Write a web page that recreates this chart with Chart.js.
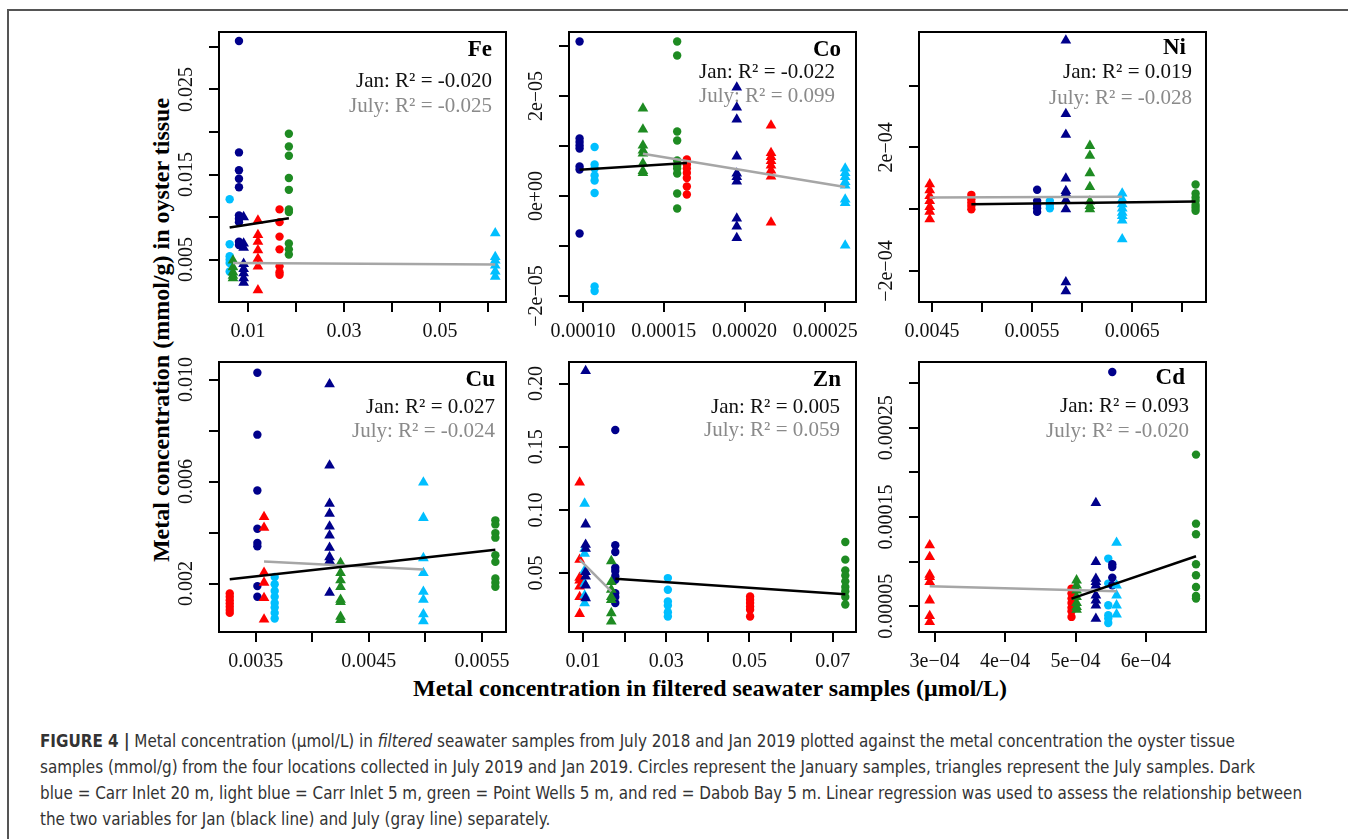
<!DOCTYPE html>
<html>
<head>
<meta charset="utf-8">
<script src="https://cdn.jsdelivr.net/npm/chart.js@4.4.1/dist/chart.umd.min.js"></script>
<style>
  body { margin: 0; background: #fff; }
  #page { position: relative; width: 1355px; height: 839px; overflow: hidden; background: #fff; }
  .panel { position: absolute; }
  .rule-top { position: absolute; left: 7px; top: 9px; width: 1341px; height: 2px; background: #555; }
  .rule-left { position: absolute; left: 7px; top: 9px; width: 2px; height: 830px; background: #555; }
  .axis-title { position: absolute; font: bold 24px "Liberation Serif", serif; color: #000; white-space: nowrap; transform: translate(-50%, -50%); }
  #yTitle { left: 161px; top: 330px; transform: translate(-50%, -50%) rotate(-90deg); }
  #xTitle { left: 710px; top: 688px; }
  .cap { position: absolute; left: 40px; white-space: nowrap; font-size: 17px; line-height: 20px;
         font-family: "Liberation Sans Narrow", "DejaVu Sans Condensed", "Liberation Sans", sans-serif;
         color: #333; transform-origin: 0 50%; }
</style>
</head>
<body>
<div id="page">
  <div class="rule-top"></div>
  <div class="rule-left"></div>
  <div class="axis-title" id="yTitle">Metal concentration (mmol/g) in oyster tissue</div>
  <div class="axis-title" id="xTitle">Metal concentration in filtered seawater samples (μmol/L)</div>
  <div class="cap" style="top:731px"><b>FIGURE 4 |</b> Metal concentration (μmol/L) in <i>filtered</i> seawater samples from July 2018 and Jan 2019 plotted against the metal concentration the oyster tissue</div>
  <div class="cap" style="top:757px">samples (mmol/g) from the four locations collected in July 2019 and Jan 2019. Circles represent the January samples, triangles represent the July samples. Dark</div>
  <div class="cap" id="capWide" style="top:783px">blue = Carr Inlet 20 m, light blue = Carr Inlet 5 m, green = Point Wells 5 m, and red = Dabob Bay 5 m. Linear regression was used to assess the relationship between</div>
  <div class="cap" style="top:809px">the two variables for Jan (black line) and July (gray line) separately.</div>
</div>
<script>
// urutan site: Carr Inlet 20 m, Carr Inlet 5 m, Point Wells 5 m, Dabob Bay 5 m
const sites = ["Carr Inlet 20 m", "Carr Inlet 5 m", "Point Wells 5 m", "Dabob Bay 5 m"];
const metals = ["Fe", "Co", "Ni", "Cu", "Zn", "Cd"];
const janR2 = ["-0.020", "-0.022", "0.019", "0.027", "0.005", "0.093"];
const julR2 = ["-0.025", "0.099", "-0.028", "-0.024", "0.059", "-0.020"];

// ---- Fe ----
const feJanX = [0.00813, 0.00619, 0.01852, 0.01658];
const feJanY = [
  [0.0307, 0.0176, 0.0155, 0.0145, 0.0135, 0.0102, 0.0098, 0.0094, 0.0071, 0.0067],
  [0.0121, 0.0068, 0.0054, 0.0050, 0.0046, 0.0036],
  [0.0198, 0.0183, 0.0172, 0.0146, 0.0132, 0.0109, 0.0106, 0.0069, 0.0062, 0.0056],
  [0.0109, 0.0094, 0.0077, 0.0062, 0.0042, 0.0035, 0.0032]
];
const feJulX = [0.0091, 0.0615, 0.00688, 0.01208];
const feJulY = [
  [0.0100, 0.0069, 0.0064, 0.0045, 0.0039, 0.0034, 0.0028, 0.0023],
  [0.0081, 0.0053, 0.0049, 0.0043, 0.0036, 0.0030],
  [0.0049, 0.0041, 0.0035, 0.0031, 0.0028],
  [0.0096, 0.0079, 0.0071, 0.0061, 0.0051, 0.0042, 0.0014]
];
const feJanLine = [[0.00619, 0.00876], [0.01852, 0.00986]];
const feJulLine = [[0.00688, 0.00461], [0.0615, 0.00441]];
const feXRange = [0.00397, 0.06374];
const feYRange = [0.00001, 0.03176];
const feXTicks = [0.01, 0.02, 0.03, 0.04, 0.05, 0.06];
const feXLabels = ["0.01", "", "0.03", "", "0.05", ""];
const feYTicks = [0.005, 0.010, 0.015, 0.020, 0.025, 0.030];
const feYLabels = ["0.005", "", "0.015", "", "0.025", ""];

// ---- Co ----
const coJanX = [9.79e-5, 1.072e-4, 1.583e-4, 1.643e-4];
const coJanY = [
  [3.09e-5, 1.15e-5, 1.08e-5, 1.01e-5, 9.5e-6, 5.9e-6, 5.3e-6, -7.5e-6],
  [9.8e-6, 6.3e-6, 5.5e-6, 4.1e-6, 3.1e-6, 6e-7, -1.81e-5, -1.9e-5],
  [3.09e-5, 2.81e-5, 1.29e-5, 1.11e-5, 7.1e-6, 6.1e-6, 5.5e-6, 4.5e-6, 5e-7, -2.5e-6],
  [7.3e-6, 6.3e-6, 5.5e-6, 4.6e-6, 3.6e-6, 1.9e-6, 3e-7]
];
const coJulX = [1.952e-4, 2.623e-4, 1.371e-4, 2.164e-4];
const coJulY = [
  [2.17e-5, 1.77e-5, 1.53e-5, 7.9e-6, 4.5e-6, 3.8e-6, 2.9e-6, -4.5e-6, -6.1e-6, -8.4e-6],
  [5.5e-6, 4.6e-6, 3.8e-6, 2.8e-6, 2.1e-6, -7e-7, -1.4e-6, -9.9e-6],
  [1.75e-5, 1.33e-5, 1.01e-5, 9.1e-6, 8.5e-6, 6.5e-6, 5e-6, 4.6e-6],
  [1.41e-5, 8.6e-6, 7.8e-6, 7e-6, 6.1e-6, 5.1e-6, 3.9e-6, -5.3e-6]
];
const coJanLine = [[9.79e-5, 5.27e-6], [1.643e-4, 6.6e-6]];
const coJulLine = [[1.371e-4, 8.47e-6], [2.623e-4, 1.8e-6]];
const coXRange = [9.135e-5, 2.69e-4];
const coYRange = [-2.12e-5, 3.28e-5];
const coXTicks = [1e-4, 1.5e-4, 2e-4, 2.5e-4];
const coXLabels = ["0.00010", "0.00015", "0.00020", "0.00025"];
const coYTicks = [-2e-5, -1e-5, 0, 1e-5, 2e-5, 3e-5];
const coYLabels = ["\u22122e\u221205", "", "0e+00", "", "2e\u221205", ""];

// ---- Ni ----
const niJanX = [0.00555, 0.005677, 0.007133, 0.004893];
const niJanY = [
  [6.3e-5, 2.7e-5, 1.4e-5, 3e-6, -8.6e-6],
  [2.7e-5, 1.4e-5, 3e-6],
  [8e-5, 5.1e-5, 3.8e-5, 2.7e-5, 1.4e-5, 5e-6, -5e-6],
  [4.65e-5, 3.2e-5, 2.2e-5, 1.1e-5, 0]
];
const niJulX = [0.005837, 0.0064, 0.006077, 0.004477];
const niJulY = [
  [5.46e-4, 3.08e-4, 2.41e-4, 9.95e-5, 5.9e-5, 5.1e-5, 2.9e-5, 0, -2.36e-4, -2.65e-4],
  [5.1e-5, 3.2e-5, 1.6e-5, 3e-6, -1.1e-5, -2.2e-5, -3.6e-5, -9.7e-5],
  [2.05e-4, 1.73e-4, 1.17e-4, 7.2e-5, 2.5e-5, 1.1e-5, 0],
  [8.1e-5, 6.2e-5, 4.3e-5, 2.7e-5, 7.6e-6, -7.6e-6, -3.2e-5]
];
const niJanLine = [[0.004893, 1.6e-5], [0.007133, 2.5e-5]];
const niJulLine = [[0.004477, 3.8e-5], [0.0064, 4e-5]];
const niXRange = [0.00437, 0.007237];
const niYRange = [-3.0e-4, 5.73e-4];
const niXTicks = [0.0045, 0.005, 0.0055, 0.006, 0.0065, 0.007];
const niXLabels = ["0.0045", "", "0.0055", "", "0.0065", ""];
const niYTicks = [-2e-4, 0, 2e-4, 4e-4];
const niYLabels = ["\u22122e\u221204", "", "2e\u221204", ""];

// ---- Cu ----
const cuJanX = [0.003515, 0.003668, 0.005618, 0.003271];
const cuJanY = [
  [0.01027, 0.00784, 0.00565, 0.00415, 0.00359, 0.00346, 0.0019, 0.00148],
  [0.00226, 0.00197, 0.00171, 0.00148, 0.00124, 0.00106, 0.00085, 0.00063],
  [0.00448, 0.00432, 0.00398, 0.0038, 0.00311, 0.00285, 0.0022, 0.00203, 0.00187],
  [0.00161, 0.00148, 0.00135, 0.00122, 0.00109, 0.00096, 0.00085]
];
const cuJulX = [0.004153, 0.004982, 0.00425, 0.003574];
const cuJulY = [
  [0.00982, 0.00663, 0.00513, 0.00474, 0.00424, 0.00389, 0.00341, 0.00304, 0.00289, 0.00164],
  [0.00597, 0.00458, 0.003, 0.00242, 0.00168, 0.00137, 0.0008, 0.00053],
  [0.00281, 0.00242, 0.00213, 0.00187, 0.00137, 0.00128, 0.0007, 0.00057],
  [0.00461, 0.00419, 0.00243, 0.00204, 0.00144, 0.00059]
];
const cuJanLine = [[0.003271, 0.00217], [0.005618, 0.00333]];
const cuJulLine = [[0.003574, 0.00287], [0.004982, 0.00255]];
const cuXRange = [0.003176, 0.005712];
const cuYRange = [0.0001, 0.01069];
const cuXTicks = [0.0035, 0.004, 0.0045, 0.005, 0.0055];
const cuXLabels = ["0.0035", "", "0.0045", "", "0.0055"];
const cuYTicks = [0.002, 0.004, 0.006, 0.008, 0.010];
const cuYLabels = ["0.002", "", "0.006", "", "0.010"];

// ---- Zn ----
const znJanX = [0.01776, 0.0304, 0.07304, 0.05016];
const znJanY = [
  [0.1632, 0.072, 0.0667, 0.0542, 0.0516, 0.0474, 0.0447, 0.0341, 0.031, 0.0262],
  [0.046, 0.0368, 0.0275, 0.0243, 0.019, 0.0156],
  [0.0746, 0.0606, 0.0521, 0.0481, 0.0434, 0.0389, 0.0355, 0.031, 0.0251],
  [0.0315, 0.0288, 0.0262, 0.0235, 0.0209, 0.0156]
];
const znJulX = [0.01064, 0.0104, 0.0168, 0.0092];
const znJulY = [
  [0.21, 0.0886, 0.0725, 0.0693, 0.0508, 0.0474, 0.0402, 0.0302],
  [0.105, 0.0693, 0.0653, 0.0521, 0.0415, 0.0323, 0.0262],
  [0.0595, 0.0429, 0.0368, 0.031, 0.0288, 0.0183, 0.0117],
  [0.1217, 0.0606, 0.0463, 0.0442, 0.0394, 0.031, 0.0177]
];
const znJanLine = [[0.01776, 0.0455], [0.07304, 0.0331]];
const znJulLine = [[0.0092, 0.0606], [0.0168, 0.0355]];
const znXRange = [0.00664, 0.07561];
const znYRange = [0.0033, 0.2171];
const znXTicks = [0.01, 0.02, 0.03, 0.04, 0.05, 0.06, 0.07];
const znXLabels = ["0.01", "", "0.03", "", "0.05", "", "0.07"];
const znYTicks = [0.05, 0.10, 0.15, 0.20];
const znYLabels = ["0.05", "0.10", "0.15", "0.20"];

// ---- Cd ----
const cdJanX = [5.522e-4, 5.465e-4, 6.711e-4, 4.943e-4];
const cdJanY = [
  [3.123e-4, 9.7e-5, 9.4e-5, 8.21e-5, 7.35e-5],
  [1.034e-4, 7.54e-5, 5.11e-5, 3.99e-5, 3.62e-5, 3.13e-5],
  [2.198e-4, 1.425e-4, 1.306e-4, 9.7e-5, 8.47e-5, 7.16e-5, 6.16e-5, 5.86e-5],
  [6.98e-5, 6.42e-5, 5.86e-5, 5.37e-5, 4.85e-5, 4.44e-5, 3.81e-5]
];
const cdJulX = [5.289e-4, 5.583e-4, 5.015e-4, 2.929e-4];
const cdJulY = [
  [1.657e-4, 9.96e-5, 8.1e-5, 7.72e-5, 7.35e-5, 6.23e-5, 5.67e-5, 5.11e-5, 3.62e-5],
  [1.213e-4, 7.35e-5, 6.23e-5, 5.11e-5, 4.1e-5],
  [7.91e-5, 7.35e-5, 6.79e-5, 6.04e-5, 5.37e-5, 4.93e-5, 4.63e-5],
  [1.183e-4, 1.052e-4, 8.54e-5, 8.28e-5, 7.72e-5, 5.67e-5, 3.92e-5, 3.25e-5]
];
const cdJanLine = [[4.943e-4, 5.86e-5], [6.711e-4, 1.06e-4]];
const cdJulLine = [[2.929e-4, 7.24e-5], [5.583e-4, 6.68e-5]];
const cdXRange = [2.777e-4, 6.853e-4];
const cdYRange = [2.12e-5, 3.235e-4];
const cdXTicks = [3e-4, 4e-4, 5e-4, 6e-4];
const cdXLabels = ["3e\u221204", "4e\u221204", "5e\u221204", "6e\u221204"];
const cdYTicks = [5e-5, 1e-4, 1.5e-4, 2e-4, 2.5e-4, 3e-4];
const cdYLabels = ["0.00005", "", "0.00015", "", "0.00025", ""];

// Gaya / posisi (bukan data)
const siteColors = ["#00008B", "#00BFFF", "#1E8B22", "#FF0000"];
const PW = 287, PH = 270;
const panelLefts = [219, 569, 919];
const panelTops = [32, 362];
// offset teks: [judul, Jan, July] dari atas plot, lalu inset kanan [judul, teks]
const textDY = [[18, 49, 74], [18, 40, 64], [16, 40, 66], [18, 45, 69], [18, 45, 68], [16, 44, 69]];
const textInset = [[14, 14], [15, 21], [20, 14], [11, 11], [15, 16], [21, 17]];

const panels = [
  { janX: feJanX, janY: feJanY, julX: feJulX, julY: feJulY, janLine: feJanLine, julLine: feJulLine,
    xRange: feXRange, yRange: feYRange, xTicks: feXTicks, xLabels: feXLabels, yTicks: feYTicks, yLabels: feYLabels },
  { janX: coJanX, janY: coJanY, julX: coJulX, julY: coJulY, janLine: coJanLine, julLine: coJulLine,
    xRange: coXRange, yRange: coYRange, xTicks: coXTicks, xLabels: coXLabels, yTicks: coYTicks, yLabels: coYLabels },
  { janX: niJanX, janY: niJanY, julX: niJulX, julY: niJulY, janLine: niJanLine, julLine: niJulLine,
    xRange: niXRange, yRange: niYRange, xTicks: niXTicks, xLabels: niXLabels, yTicks: niYTicks, yLabels: niYLabels },
  { janX: cuJanX, janY: cuJanY, julX: cuJulX, julY: cuJulY, janLine: cuJanLine, julLine: cuJulLine,
    xRange: cuXRange, yRange: cuYRange, xTicks: cuXTicks, xLabels: cuXLabels, yTicks: cuYTicks, yLabels: cuYLabels },
  { janX: znJanX, janY: znJanY, julX: znJulX, julY: znJulY, janLine: znJanLine, julLine: znJulLine,
    xRange: znXRange, yRange: znYRange, xTicks: znXTicks, xLabels: znXLabels, yTicks: znYTicks, yLabels: znYLabels },
  { janX: cdJanX, janY: cdJanY, julX: cdJulX, julY: cdJulY, janLine: cdJanLine, julLine: cdJulLine,
    xRange: cdXRange, yRange: cdYRange, xTicks: cdXTicks, xLabels: cdXLabels, yTicks: cdYTicks, yLabels: cdYLabels }
];

Chart.defaults.font.family = '"Liberation Serif", serif';

const TICK_FONT = 20;
const PAD_L = 60, PAD_T = 10, PAD_R = 10, PAD_B = 45;

function makePanel(idx) {
  const p = panels[idx];
  const left = panelLefts[idx % 3], top = panelTops[Math.floor(idx / 3)];

  const holder = document.createElement("div");
  holder.className = "panel";
  holder.style.left = (left - PAD_L) + "px";
  holder.style.top = (top - PAD_T) + "px";
  const canvas = document.createElement("canvas");
  canvas.width = PW + PAD_L + PAD_R;
  canvas.height = PH + PAD_T + PAD_B;
  canvas.style.width = canvas.width + "px";
  canvas.style.height = canvas.height + "px";
  holder.appendChild(canvas);
  document.getElementById("page").appendChild(holder);

  // garis regresi dulu supaya digambar paling atas
  const datasets = [
    { label: "Jan fit", data: p.janLine.map(([x, y]) => ({ x, y })), showLine: true,
      borderColor: "#000", borderWidth: 2.5, pointRadius: 0, clip: false },
    { label: "July fit", data: p.julLine.map(([x, y]) => ({ x, y })), showLine: true,
      borderColor: "#A6A6A6", borderWidth: 2.5, pointRadius: 0, clip: false }
  ];
  for (let i = 0; i < 4; i++) {
    datasets.push({
      label: sites[i] + " July",
      data: p.julY[i].map(y => ({ x: p.julX[i], y })),
      pointStyle: "triangle", pointRadius: 6.2, borderWidth: 0,
      backgroundColor: siteColors[i], borderColor: siteColors[i], clip: false
    });
  }
  for (let i = 0; i < 4; i++) {
    datasets.push({
      label: sites[i] + " Jan",
      data: p.janY[i].map(y => ({ x: p.janX[i], y })),
      pointStyle: "circle", pointRadius: 4.2, borderWidth: 0,
      backgroundColor: siteColors[i], borderColor: siteColors[i], clip: false
    });
  }

  const tickGrid = { drawOnChartArea: false, drawTicks: true, tickLength: 10, color: "#000", lineWidth: 2 };

  const boxAndText = {
    id: "boxAndText",
    afterDatasetsDraw(chart) {
      const { ctx, chartArea: a } = chart;
      ctx.save();
      ctx.strokeStyle = "#000";
      ctx.lineWidth = 2;
      ctx.strokeRect(a.left, a.top, a.right - a.left, a.bottom - a.top);

      // label sumbu y, diputar seperti di R
      const ys = chart.scales.y;
      ctx.fillStyle = "#111";
      ctx.font = TICK_FONT + 'px "Liberation Serif"';
      ctx.textAlign = "center";
      ctx.textBaseline = "middle";
      ys.ticks.forEach((t, i) => {
        const txt = p.yLabels[i];
        if (!txt) return;
        ctx.save();
        ctx.translate(a.left - 32, ys.getPixelForValue(t.value));
        ctx.rotate(-Math.PI / 2);
        ctx.fillText(txt, 0, 0);
        ctx.restore();
      });

      // judul logam + R2
      const dy = textDY[idx], ins = textInset[idx];
      ctx.textAlign = "right";
      ctx.fillStyle = "#000";
      ctx.font = 'bold 23px "Liberation Serif"';
      ctx.fillText(metals[idx], a.right - ins[0], a.top + dy[0]);
      ctx.font = '21px "Liberation Serif"';
      ctx.fillStyle = "#111";
      ctx.fillText("Jan: R\u00B2 = " + janR2[idx], a.right - ins[1], a.top + dy[1]);
      ctx.fillStyle = "#8A8A8A";
      ctx.fillText("July: R\u00B2 = " + julR2[idx], a.right - ins[1], a.top + dy[2]);
      ctx.restore();
    }
  };

  new Chart(canvas, {
    type: "scatter",
    data: { datasets },
    options: {
      responsive: false,
      animation: false,
      events: [],
      layout: { padding: { top: PAD_T, right: PAD_R, left: 0, bottom: 0 } },
      plugins: { legend: { display: false }, tooltip: { enabled: false } },
      scales: {
        x: {
          type: "linear",
          min: p.xRange[0], max: p.xRange[1],
          afterBuildTicks: s => { s.ticks = p.xTicks.map(v => ({ value: v })); },
          afterFit: s => { s.height = PAD_B; s.paddingLeft = 0; s.paddingRight = 0; },
          grid: tickGrid,
          border: { display: false },
          ticks: {
            autoSkip: false, maxRotation: 0, minRotation: 0, padding: 8,
            color: "#111", font: { size: TICK_FONT },
            callback: (v, i) => p.xLabels[i]
          }
        },
        y: {
          type: "linear",
          min: p.yRange[0], max: p.yRange[1],
          afterBuildTicks: s => { s.ticks = p.yTicks.map(v => ({ value: v })); },
          afterFit: s => { s.width = PAD_L; s.paddingTop = 0; s.paddingBottom = 0; },
          grid: tickGrid,
          border: { display: false },
          ticks: { display: false }
        }
      }
    },
    plugins: [boxAndText]
  });
}

for (let i = 0; i < panels.length; i++) makePanel(i);

// lebar caption disamakan dengan referensi
const wide = document.getElementById("capWide");
const k = 1262 / wide.getBoundingClientRect().width;
document.querySelectorAll(".cap").forEach(el => { el.style.transform = "scaleX(" + k + ")"; });
</script>
</body>
</html>
